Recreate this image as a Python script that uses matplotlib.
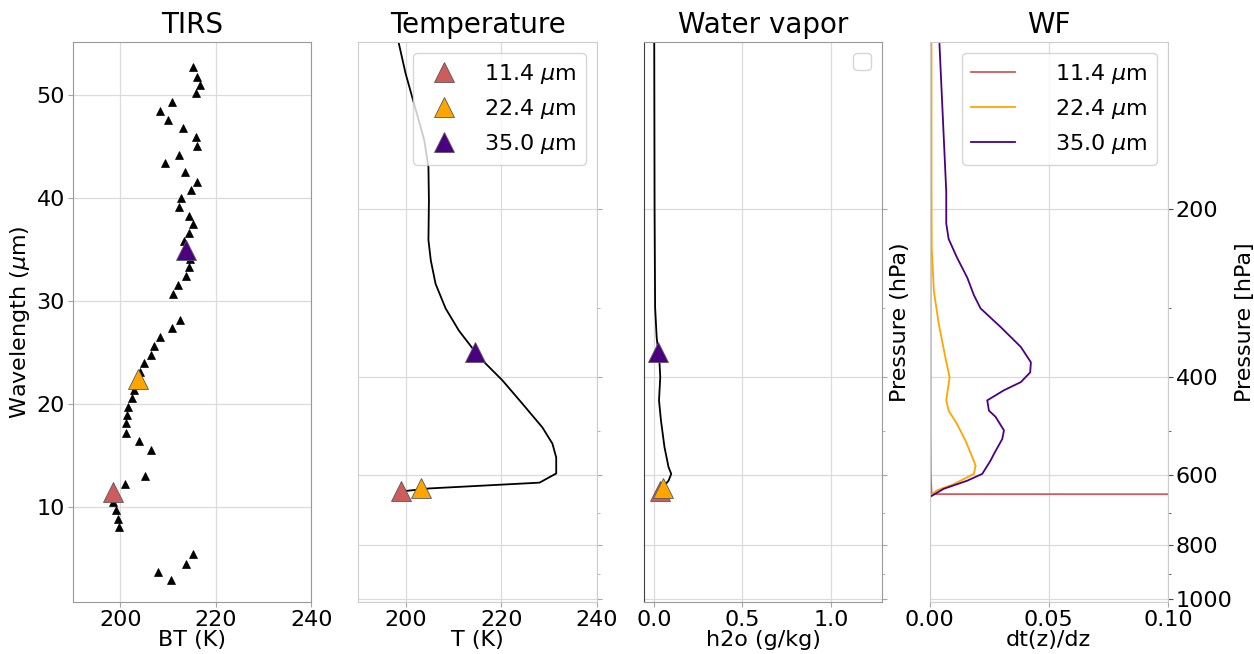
#!/usr/bin/env python3
"""TIRS brightness temperatures with T / h2o profiles and weighting functions."""
import matplotlib
matplotlib.use("Agg")
import matplotlib.pyplot as plt
from matplotlib.ticker import FixedLocator, NullFormatter, ScalarFormatter

# --- TIRS channels (wavelength in um, brightness temperature in K) ---
tirs_wl = [52.7, 51.8, 51.0, 50.2, 49.3, 48.5, 47.6, 46.8, 45.9, 45.1,
           44.2, 43.4, 42.5, 41.6, 40.8, 40.0, 39.1, 38.3, 37.5, 36.6,
           35.8, 34.9, 34.1, 33.3, 32.4, 31.6, 30.7, 28.2, 27.4, 26.5,
           25.6, 24.8, 24.0, 23.1, 22.3, 21.4, 20.6, 19.7, 18.9, 18.1,
           17.2, 16.4, 15.5, 13.0, 12.2, 11.3, 10.5, 9.7, 8.8, 8.0,
           5.4, 4.5, 3.7, 2.9]
tirs_bt = [215.2, 216.0, 216.7, 215.8, 210.9, 208.3, 209.9, 213.1, 215.9, 216.1,
           212.3, 209.4, 213.5, 216.1, 214.8, 212.8, 212.3, 214.4, 215.3, 214.3,
           213.3, 213.7, 214.6, 214.4, 213.8, 212.1, 211.0, 212.5, 210.9, 208.2,
           207.0, 206.5, 204.9, 204.1, 203.7, 202.9, 202.4, 201.5, 201.3, 201.1,
           201.1, 204.0, 206.5, 205.1, 200.9, 198.4, 198.5, 199.1, 199.4, 199.8,
           215.2, 213.7, 207.9, 210.7]

# --- highlighted channels ---
sel_labels = [r"11.4 $\mu$m", r"22.4 $\mu$m", r"35.0 $\mu$m"]
sel_colors = ["indianred", "orange", "indigo"]
sel_wl = [11.4, 22.4, 35.0]
sel_bt = [198.4, 203.7, 213.7]
sel_p = [641, 632, 360]          # hPa, peak level of each channel
sel_t = [198.9, 203.1, 214.5]    # K at that level
sel_q = [0.032, 0.051, 0.026]    # g/kg at that level

# --- temperature profile ---
t_p = [100, 114, 150, 168, 193, 227, 247, 272, 301, 330, 360, 378, 405,
       446, 492, 526, 557, 595, 618, 633, 641]
t_k = [198.4, 199.9, 203.8, 204.7, 204.8, 204.7, 205.2, 206.2, 208.3, 211.1,
       214.5, 216.7, 220.2, 224.4, 228.6, 230.7, 231.5, 231.5, 228.0, 204.8,
       198.9]

# --- water vapour profile ---
q_p = [100, 200, 300, 340, 360, 378, 400, 440, 478, 534, 580, 596, 613, 632, 641]
q_gkg = [0.002, 0.004, 0.007, 0.016, 0.025, 0.032, 0.036, 0.029, 0.040,
         0.060, 0.083, 0.098, 0.083, 0.047, 0.028]

# --- weighting functions ---
wf_p_114 = [100, 300, 500, 600, 640, 648, 650]
wf_114 = [0.0004, 0.0004, 0.0004, 0.0005, 0.0008, 0.0010, 1.0]
wf_p_224 = [100, 180, 234, 280, 320, 368, 400, 440, 459, 485, 520, 556,
            576, 596, 622, 638, 652]
wf_224 = [0.0008, 0.0008, 0.0009, 0.0018, 0.0038, 0.0066, 0.0084, 0.0070,
          0.0080, 0.0115, 0.0151, 0.0179, 0.0193, 0.0186, 0.0101, 0.0031, 0.0003]
wf_p_350 = [100, 186, 212, 226, 244, 265, 285, 301, 325, 353, 376, 392, 408,
            422, 440, 459, 471, 498, 516, 549, 564, 596, 613, 634, 655]
wf_350 = [0.0041, 0.0070, 0.0070, 0.0080, 0.0115, 0.0158, 0.0186, 0.0214,
          0.0298, 0.0383, 0.0425, 0.0422, 0.0383, 0.0312, 0.0242, 0.0249,
          0.0277, 0.0312, 0.0305, 0.0270, 0.0256, 0.0221, 0.0158, 0.0059, 0.0003]

p_major = [200, 400, 600, 800, 1000]
p_minor = [300, 500, 700, 900]


def pressure_axis(ax, labels):
    ax.set_yscale("log")
    ax.set_ylim(1013, 100)
    ax.yaxis.set_major_locator(FixedLocator(p_major))
    ax.yaxis.set_minor_locator(FixedLocator(p_minor))
    ax.yaxis.set_minor_formatter(NullFormatter())
    if labels:
        fmt = ScalarFormatter()
        fmt.set_scientific(False)
        ax.yaxis.set_major_formatter(fmt)
    else:
        ax.yaxis.set_major_formatter(NullFormatter())
    ax.yaxis.tick_right()


def style(ax, spine_color):
    ax.grid(True, color="0.86", lw=0.9)
    for s in ax.spines.values():
        s.set_color(spine_color)
    ax.tick_params(which="both", color="0.65", pad=2)
    ax.xaxis.labelpad = 0
    ax.title.set_fontsize(20)


def main():
    plt.rcParams["font.size"] = 16
    fig, axs = plt.subplots(1, 4, figsize=(12.54, 6.54), dpi=100)
    fig.subplots_adjust(left=0.058, right=0.9314, bottom=0.079, top=0.9365,
                        wspace=0.198)
    ax1, ax2, ax3, ax4 = axs

    # TIRS
    ax1.plot(tirs_bt, tirs_wl, "^", color="black", ms=6, mew=0.5)
    for bt, wl, c in zip(sel_bt, sel_wl, sel_colors):
        ax1.plot(bt, wl, "^", color=c, ms=15, mec="0.35", mew=0.6)
    ax1.set_xlim(190, 240)
    ax1.set_ylim(0.73, 55.2)
    ax1.set_xticks([200, 220, 240])
    ax1.set_xlabel("BT (K)")
    ax1.set_ylabel(r"Wavelength ($\mu$m)", labelpad=3)
    ax1.set_title("TIRS")
    style(ax1, "0.6")

    # Temperature
    ax2.plot(t_k, t_p, color="black", lw=1.3)
    for t, p, c, lab in zip(sel_t, sel_p, sel_colors, sel_labels):
        ax2.plot(t, p, "^", color=c, ms=15, mec="0.35", mew=0.6, ls="none",
                 label=lab)
    ax2.set_xlim(190, 240)
    ax2.set_xticks([200, 220, 240])
    pressure_axis(ax2, labels=False)
    ax2.set_xlabel("T (K)")
    ax2.set_title("Temperature")
    ax2.legend(loc="upper right")
    style(ax2, "0.8")

    # Water vapor
    ax3.plot(q_gkg, q_p, color="black", lw=1.3)
    for q, p, c in zip(sel_q, sel_p, sel_colors):
        ax3.plot(q, p, "^", color=c, ms=15, mec="0.35", mew=0.6)
    ax3.set_xlim(-0.056, 1.29)
    ax3.set_xticks([0.0, 0.5, 1.0])
    pressure_axis(ax3, labels=False)
    ax3.set_xlabel("h2o (g/kg)")
    ax3.set_ylabel("Pressure (hPa)", labelpad=0)
    ax3.yaxis.set_label_position("right")
    ax3.set_title("Water vapor")
    ax3.legend([], [], loc="upper right")
    style(ax3, "0.6")
    ax3.spines["left"].set_color("0.25")

    # Weighting functions
    ax4.plot(wf_114, wf_p_114, color="indianred", lw=1.3, label=sel_labels[0])
    ax4.plot(wf_224, wf_p_224, color="orange", lw=1.3, label=sel_labels[1])
    ax4.plot(wf_350, wf_p_350, color="indigo", lw=1.3, label=sel_labels[2])
    ax4.set_xlim(0, 0.1)
    ax4.set_xticks([0.0, 0.05, 0.1])
    ax4.set_xticklabels(["0.00", "0.05", "0.10"])
    pressure_axis(ax4, labels=True)
    ax4.set_xlabel("dt(z)/dz")
    ax4.set_ylabel("Pressure [hPa]", labelpad=2)
    ax4.yaxis.set_label_position("right")
    ax4.set_title("WF")
    ax4.legend(loc="upper right", handletextpad=1.8)
    style(ax4, "0.8")
    ax4.tick_params(axis="y", which="both", color="0.3")

    fig.savefig("out.png", dpi=100)
    plt.close(fig)


if __name__ == "__main__":
    main()
